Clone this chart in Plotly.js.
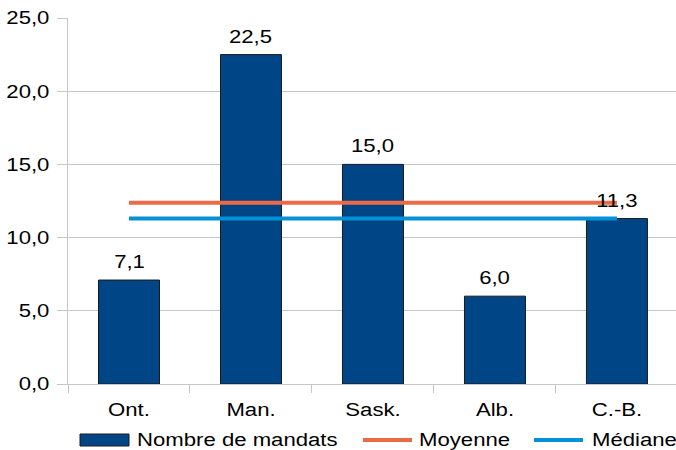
<!DOCTYPE html>
<html>
<head>
<meta charset="utf-8">
<script src="https://cdn.plot.ly/plotly-3.0.1.min.js"></script>
<style>
  html, body { margin: 0; padding: 0; background: #fff; overflow: hidden; }
  #chart { width: 676px; height: 450px; }
</style>
</head>
<body>
<div id="chart"></div>
<script>
// Provinces and their values
const provinces = ["Ont.", "Man.", "Sask.", "Alb.", "C.-B."];
const mandats = [7.1, 22.5, 15.0, 6.0, 11.3];
const moyenne = [12.38, 12.38];
const mediane = [11.3, 11.3];
const lineX = ["Ont.", "C.-B."];
const yTicks = [0, 5, 10, 15, 20, 25];

const legendNames = ["Nombre de mandats", "Moyenne", "Médiane"];

const barColor = "#004586";
const meanColor = "#ec6a46";
const medianColor = "#0491d6";
const gridColor = "#c6c6c6";
const fontFamily = "'Liberation Sans', Arial, sans-serif";
const FS = 18;          // text size
const TEXT_WIDEN = 1.23; // horizontal widening of all labels

const fmt = v => v.toFixed(1).replace(".", ",");

const traces = [
  {
    type: "bar",
    x: provinces,
    y: mandats,
    width: 0.5,
    marker: { color: barColor, line: { color: "#1a1a1a", width: 1 } },
    hoverinfo: "skip",
    showlegend: false
  },
  {
    type: "scatter",
    mode: "lines",
    x: lineX,
    y: moyenne,
    line: { color: meanColor, width: 4 },
    hoverinfo: "skip",
    showlegend: false
  },
  {
    type: "scatter",
    mode: "lines",
    x: lineX,
    y: mediane,
    line: { color: medianColor, width: 4 },
    hoverinfo: "skip",
    showlegend: false
  }
];

// Value labels above each bar
const annotations = provinces.map((p, i) => ({
  x: p, y: mandats[i], xref: "x", yref: "y",
  text: fmt(mandats[i]),
  showarrow: false,
  yanchor: "bottom",
  yshift: 6,
  font: { family: fontFamily, size: FS, color: "#000" }
}));

// Legend drawn along the bottom, positioned in paper units of the plot area
const PL = 68, PR = 676, PT = 18, PB = 384;
const px = x => (x - PL) / (PR - PL);
const py = y => (PB - y) / (PB - PT);
const legendY = 440;
const shapes = [
  { type: "rect", xref: "paper", yref: "paper",
    x0: px(80), x1: px(129), y0: py(446), y1: py(434),
    fillcolor: barColor, line: { color: "#1a1a1a", width: 1 } },
  { type: "line", xref: "paper", yref: "paper",
    x0: px(363), x1: px(412), y0: py(legendY), y1: py(legendY),
    line: { color: meanColor, width: 4 } },
  { type: "line", xref: "paper", yref: "paper",
    x0: px(534), x1: px(583), y0: py(legendY), y1: py(legendY),
    line: { color: medianColor, width: 4 } }
];
const legendTextX = [135, 417, 590];
legendNames.forEach((name, i) => {
  annotations.push({
    xref: "paper", yref: "paper",
    x: px(legendTextX[i]), y: py(legendY),
    xanchor: "left", yanchor: "middle",
    text: name, showarrow: false,
    font: { family: fontFamily, size: FS, color: "#000" }
  });
});

const layout = {
  width: 676,
  height: 450,
  margin: { l: PL, r: 676 - PR, t: PT, b: 450 - PB, pad: 0 },
  paper_bgcolor: "#fff",
  plot_bgcolor: "#fff",
  separators: ", ",
  font: { family: fontFamily, size: FS, color: "#000" },
  showlegend: false,
  xaxis: {
    type: "category",
    categoryorder: "array",
    categoryarray: provinces,
    range: [-0.5, 4.484],
    showgrid: false,
    showline: true,
    linecolor: gridColor,
    linewidth: 1,
    ticks: "outside",
    tickson: "boundaries",
    ticklen: 8,
    tickcolor: gridColor,
    ticklabelstandoff: 9,
    tickfont: { family: fontFamily, size: FS, color: "#000" },
    zeroline: false,
    fixedrange: true
  },
  yaxis: {
    range: [0, 25],
    tickvals: yTicks,
    ticktext: yTicks.map(fmt),
    showgrid: true,
    gridcolor: gridColor,
    gridwidth: 1,
    showline: true,
    linecolor: gridColor,
    linewidth: 1,
    ticks: "outside",
    ticklen: 10,
    tickcolor: gridColor,
    ticklabelstandoff: 4,
    tickfont: { family: fontFamily, size: FS, color: "#000" },
    zeroline: false,
    fixedrange: true
  },
  annotations: annotations,
  shapes: shapes
};

// Widen every label horizontally around its anchor point
function widenText(gd) {
  gd.querySelectorAll("svg text").forEach(t => {
    const b = t.getBBox();
    if (!b.width) return;
    let anchor = t.getAttribute("text-anchor") || "start";
    const g = t.closest(".annotation");
    if (g) {
      const a = layout.annotations[+g.getAttribute("data-index")];
      anchor = a && a.xanchor === "left" ? "start" : "middle";
    }
    const cx = anchor === "start" ? b.x : anchor === "end" ? b.x + b.width : b.x + b.width / 2;
    const old = t.getAttribute("transform") || "";
    t.setAttribute("transform",
      `${old} translate(${cx},0) scale(${TEXT_WIDEN},1) translate(${-cx},0)`);
  });
}

Plotly.newPlot("chart", traces, layout, { staticPlot: true, displayModeBar: false })
  .then(widenText);
</script>
</body>
</html>
